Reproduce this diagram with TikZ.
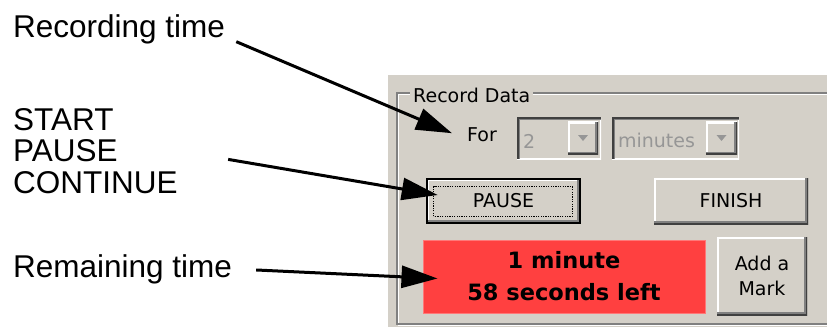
\documentclass[tikz,border=0pt]{standalone}
\usepackage{fontspec}
\newfontfamily\notefont{Liberation Sans}
\newfontfamily\uifont{DejaVu Sans}
\usetikzlibrary{arrows.meta,calc,positioning}

\definecolor{winface}{RGB}{212,208,200}
\definecolor{winshadow}{RGB}{128,128,128}
\definecolor{windark}{RGB}{64,64,64}
\definecolor{wintext}{RGB}{150,150,150}
\definecolor{alarmred}{RGB}{255,64,64}
\definecolor{alarmedge}{RGB}{255,120,120}

\tikzset{
  note/.style={font=\notefont\fontsize{31.5}{31.5}\selectfont, inner sep=0pt, align=left},
  ui/.style={font=\uifont\fontsize{19}{25}\selectfont, inner sep=0pt},
  alarm/.style={font=\uifont\bfseries\fontsize{22.5}{32}\selectfont, inner sep=0pt,
    fill=alarmred, draw=alarmedge, line width=1pt, align=center},
  callout/.style={line width=3pt, -{Triangle[length=36pt,width=22pt]}},
  raised/.style={fill=winface, inner sep=0pt, path picture={
    \draw[white, line width=4pt] (path picture bounding box.south west) -- (path picture bounding box.north west) -- (path picture bounding box.north east);
    \draw[winshadow, line width=6pt] (path picture bounding box.north east) -- (path picture bounding box.south east) -- (path picture bounding box.south west);
    \draw[windark, line width=3pt] (path picture bounding box.north east) -- (path picture bounding box.south east) -- (path picture bounding box.south west);
  }},
  sunken/.style={fill=winface, inner sep=0pt, path picture={
    \draw[white, line width=3pt] (path picture bounding box.north east) -- (path picture bounding box.south east) -- (path picture bounding box.south west);
    \draw[winshadow, line width=6pt] (path picture bounding box.south west) -- (path picture bounding box.north west) -- (path picture bounding box.north east);
    \draw[windark, line width=3pt] (path picture bounding box.south west) -- (path picture bounding box.north west) -- (path picture bounding box.north east);
  }},
}

\begin{document}
\begin{tikzpicture}[x=1pt,y=-1pt]
\useasboundingbox (0,0) rectangle (827,327);

% dialog panel and group box
\fill[winface] (388,75) rectangle (827,327);
\draw[white, line width=1.5pt] (827,94.5) -- (398.5,94.5) -- (398.5,325.5) -- (827,325.5);
\draw[winshadow, line width=1.5pt] (827,93) -- (397,93) -- (397,324) -- (827,324);
\node[ui, fill=winface, inner xsep=3pt, inner ysep=2pt, anchor=base west] (grouptitle) at (410,102) {Record Data};

% duration row
\node[ui, anchor=base west] (forlbl) at (467,141) {For};
\node[sunken, minimum width=84pt, minimum height=42pt] (combo1) at (559,138) {};
\node[raised, minimum width=30pt, minimum height=33pt, anchor=east] (combo1btn) at ($(combo1.east)+(-3,0)$) {};
\fill[wintext] ($(combo1btn.center)+(-5,-3)$) -- ++(10,0) -- ++(-5,6) -- cycle;
\node[ui, text=wintext, anchor=base west] (combo1txt) at ($(combo1.west)+(6,10)$) {2};
\node[sunken, minimum width=127pt, minimum height=42pt] (combo2) at (675.5,138) {};
\node[raised, minimum width=31pt, minimum height=33pt, anchor=east] (combo2btn) at ($(combo2.east)+(-2,0)$) {};
\fill[wintext] ($(combo2btn.center)+(-5,-3)$) -- ++(10,0) -- ++(-5,6) -- cycle;
\node[ui, text=wintext, anchor=base west] (combo2txt) at ($(combo2.west)+(6,9)$) {minutes};

% buttons
\node[raised, ui, draw=black, line width=2.5pt, minimum width=153pt, minimum height=44pt] (pausebtn) at (503.5,201) {PAUSE};
\draw[line width=1.2pt, dash pattern=on 1.2pt off 1.2pt] ($(pausebtn.south west)+(8,-8)$) rectangle ($(pausebtn.north east)+(-9,9)$);
\node[raised, ui, minimum width=154pt, minimum height=46pt] (finishbtn) at (731,201) {FINISH};
\node[alarm, minimum width=282pt, minimum height=73pt] (redbox) at (564,276.5) {1 minute\\58 seconds left};
\node[raised, ui, align=center, minimum width=90pt, minimum height=78pt] (markbtn) at (762,276) {Add a\\Mark};

% annotations
\node[note, anchor=base west] (rectime) at (13,37) {Recording time};
\node[note, anchor=north west] (startlbl) at (13,108) {START\\PAUSE\\CONTINUE};
\node[note, anchor=base west] (remlbl) at (13,277) {Remaining time};

\coordinate (fortip) at ($(forlbl.west)+(-15,-1)$);
\coordinate (pausetip) at ($(pausebtn.west)+(12,-6)$);
\coordinate (remtip) at ($(redbox.west)+(15,2)$);
\draw[callout, shorten <=12pt] (rectime.base east) -- (fortip);
\draw[callout, shorten <=51pt] (startlbl.east) -- (pausetip);
\draw[callout, shorten <=24pt] (remlbl.east) -- (remtip);
\end{tikzpicture}
\end{document}
